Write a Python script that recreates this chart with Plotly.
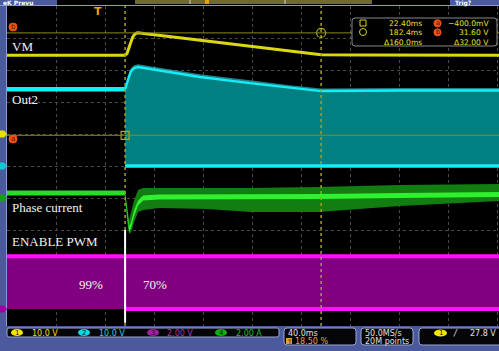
import plotly.graph_objects as go

W, H = 499, 351

# ------------------------- data -------------------------
T_LEFT, T_RIGHT = -74.0, 327.6          # ms at screen edges (18.5 % pre-trigger, 40 ms/div)
TIME_DIV = 40.0                          # ms per division
CURSOR_T = [22.4, 182.4]                 # ms
CURSOR_V = [-0.4, 31.6]                  # V (channel 1)

CH1_SCALE, CH1_OFF = 10.0, 1.0           # V/div, ground position (div)
CH2_SCALE, CH2_OFF = 10.0, 0.0
CH3_SCALE, CH3_OFF = 2.0, -4.47
CH4_SCALE, CH4_OFF = 2.0, -1.0

# VM (ch1, V)
vm_t = [-74, 22.4, 24.0, 25.5, 27.0, 28.5, 30.0, 31.5, 33.0, 36.0, 60, 100, 140, 182.4, 220, 280, 327.6]
vm_v = [24.6, 24.6, 25.2, 27.0, 28.8, 30.2, 31.1, 31.5, 31.6, 31.5, 30.4, 28.5, 26.6, 24.8, 24.7, 24.6, 24.6]

# Out2 (ch2, V) – envelope top, spike tops
out2_t = [-74, 22.4, 24.1, 25.7, 27.3, 29.8, 33.0, 59, 83.5, 124.4, 157, 182.4, 246.8, 327.6]
out2_top = [24.0, 24.0, 26.3, 28.1, 29.7, 30.6, 30.9, 29.4, 27.8, 25.9, 24.4, 23.4, 23.6, 23.6]
out2_spike = [24.0, 24.0, 27.0, 29.0, 30.6, 31.5, 31.8, 30.3, 28.7, 26.8, 25.2, 24.2, 24.4, 24.4]

# Phase current (ch4, A)
cur_pre_t = [-74, 22.4]
cur_pre_hi = [0.47, 0.47]
cur_pre_lo = [0.16, 0.16]
cur_t = [22.4, 24.1, 25.7, 27.3, 29.8, 33.0, 37.1, 50, 90, 124.4, 180, 246.8, 327.6]
cur_core_hi = [0.41, -0.88, -1.75, -1.5, -0.75, -0.16, 0.16, 0.22, 0.22, 0.22, 0.25, 0.31, 0.38]
cur_core_lo = [0.09, -1.25, -2.13, -1.88, -1.13, -0.47, -0.16, -0.09, -0.09, -0.09, -0.06, 0.0, 0.06]
cur_out_hi = [0.31, -0.44, -1.38, -0.88, -0.13, 0.5, 0.63, 0.63, 0.63, 0.63, 0.69, 0.81, 0.88]
cur_out_lo = [0.0, -1.5, -2.25, -2.13, -1.5, -0.88, -0.75, -0.63, -0.69, -0.88, -0.88, -0.5, -0.19]

# ENABLE PWM (ch3, V)
pwm_t = [-74, 22.4, 327.6]
pwm_high = [3.3, 3.3, 3.3]
pwm_low = [0.0, 0.0, 0.0]
duty_labels = ["99%", "70%"]

# ------------------------- helpers -------------------------
def ch(vals, scale, off):
    return [v / scale + off for v in vals]

def px(x):
    return x / W

def py(y):
    return 1 - y / H

SCREEN_L, SCREEN_R, SCREEN_T, SCREEN_B = 7, 499, 6, 326

fig = go.Figure()

def band(x, lo, hi, color):
    fig.add_trace(go.Scatter(x=x, y=lo, mode="lines", line=dict(width=0, color=color),
                             hoverinfo="skip"))
    fig.add_trace(go.Scatter(x=x, y=hi, mode="lines", line=dict(width=0, color=color),
                             fill="tonexty", fillcolor=color, hoverinfo="skip"))

def line(x, y, color, width, dash=None):
    fig.add_trace(go.Scatter(x=x, y=y, mode="lines",
                             line=dict(color=color, width=width, dash=dash),
                             hoverinfo="skip"))

# PWM
band(pwm_t, ch(pwm_low, CH3_SCALE, CH3_OFF), ch(pwm_high, CH3_SCALE, CH3_OFF), "#80007f")
line(pwm_t, ch(pwm_high, CH3_SCALE, CH3_OFF), "#ff10ff", 4)
line(pwm_t[1:], ch(pwm_low[1:], CH3_SCALE, CH3_OFF), "#ff10ff", 4)

# Phase current
band(cur_pre_t, ch(cur_pre_lo, CH4_SCALE, CH4_OFF), ch(cur_pre_hi, CH4_SCALE, CH4_OFF), "#22e022")
band(cur_t, ch(cur_out_lo, CH4_SCALE, CH4_OFF), ch(cur_out_hi, CH4_SCALE, CH4_OFF), "#127e12")
band(cur_t, ch(cur_core_lo, CH4_SCALE, CH4_OFF), ch(cur_core_hi, CH4_SCALE, CH4_OFF), "#30f030")

# Out2
post = slice(1, None)
zeros = [0.0] * len(out2_t[post])
band(out2_t[post], ch(zeros, CH2_SCALE, CH2_OFF), ch(out2_top[post], CH2_SCALE, CH2_OFF), "#008080")
fig.add_trace(go.Scatter(x=out2_t[post], y=ch(out2_spike[post], CH2_SCALE, CH2_OFF), mode="lines",
                         line=dict(width=0), fill="tonexty", fillcolor="rgba(60,230,240,0.55)",
                         hoverinfo="skip"))
line(out2_t[post], ch(out2_top[post], CH2_SCALE, CH2_OFF), "#10f0f8", 2.5)
line(out2_t[:2], ch(out2_top[:2], CH2_SCALE, CH2_OFF), "#10f0f8", 4.5)
line(out2_t[post], ch(zeros, CH2_SCALE, CH2_OFF), "#10f0f8", 3.5)

# VM
line(vm_t, ch(vm_v, CH1_SCALE, CH1_OFF), "#dcd810", 3)

# cursor markers
ya = CURSOR_V[0] / CH1_SCALE + CH1_OFF
yb = CURSOR_V[1] / CH1_SCALE + CH1_OFF
fig.add_trace(go.Scatter(x=[CURSOR_T[0]], y=[ya], mode="markers",
                         marker=dict(symbol="square-open", size=8, color="#b0a820", line=dict(width=1.2)),
                         hoverinfo="skip"))
fig.add_trace(go.Scatter(x=[CURSOR_T[1]], y=[yb], mode="markers",
                         marker=dict(symbol="circle-open", size=9, color="#b0a820", line=dict(width=1.2)),
                         hoverinfo="skip"))

shapes = []
# screen background
shapes.append(dict(type="rect", xref="paper", yref="paper", x0=px(SCREEN_L), x1=px(SCREEN_R),
                   y0=py(SCREEN_B), y1=py(SCREEN_T), fillcolor="black", line=dict(width=0), layer="below"))
# screen border
shapes.append(dict(type="line", xref="paper", yref="paper", x0=0, x1=1, y0=py(5.5), y1=py(5.5),
                   line=dict(color="#8a9ad8", width=1), layer="below"))
shapes.append(dict(type="line", xref="paper", yref="paper", x0=px(6.5), x1=px(6.5), y0=py(5.5), y1=py(326),
                   line=dict(color="#8a9ad8", width=1), layer="below"))
# top bar
shapes.append(dict(type="rect", xref="paper", yref="paper", x0=px(57), x1=px(450), y0=py(5), y1=1,
                   fillcolor="black", line=dict(width=0)))
shapes.append(dict(type="rect", xref="paper", yref="paper", x0=px(135), x1=px(372), y0=py(4), y1=1,
                   fillcolor="#6e6b2c", line=dict(width=0)))
for xt in (190, 285):
    shapes.append(dict(type="line", xref="paper", yref="paper", x0=px(xt), x1=px(xt), y0=py(4), y1=1,
                       line=dict(color="#d0d0d0", width=1)))
shapes.append(dict(type="rect", xref="paper", yref="paper", x0=px(205), x1=px(209), y0=py(4), y1=1,
                   fillcolor="#f0a000", line=dict(width=0)))

# cursors
for tc in CURSOR_T:
    shapes.append(dict(type="line", xref="x", yref="y", x0=tc, x1=tc, y0=-5, y1=5,
                       line=dict(color="#a8a020", width=1.5, dash="dot"), layer="above"))
for yc in (ya, yb):
    shapes.append(dict(type="line", xref="x", yref="y", x0=T_LEFT, x1=T_RIGHT, y0=yc, y1=yc,
                       line=dict(color="#8c8a1c", width=1), layer="above"))
# PWM change marker (white)
shapes.append(dict(type="line", xref="x", yref="y", x0=CURSOR_T[0], x1=CURSOR_T[0], y0=-2.0, y1=-4.9,
                   line=dict(color="white", width=2), layer="above"))

def rrect(x0, y0, x1, y1, r, fill, border):
    p = (f"M {px(x0 + r)},{py(y0)} L {px(x1 - r)},{py(y0)} Q {px(x1)},{py(y0)} {px(x1)},{py(y0 + r)} "
         f"L {px(x1)},{py(y1 - r)} Q {px(x1)},{py(y1)} {px(x1 - r)},{py(y1)} "
         f"L {px(x0 + r)},{py(y1)} Q {px(x0)},{py(y1)} {px(x0)},{py(y1 - r)} "
         f"L {px(x0)},{py(y0 + r)} Q {px(x0)},{py(y0)} {px(x0 + r)},{py(y0)} Z")
    return dict(type="path", xref="paper", yref="paper", path=p, fillcolor=fill,
                line=dict(color=border, width=1), layer="above")

# readout box
shapes.append(rrect(352, 18, 497, 46, 3, "black", "#8a8a8a"))
shapes.append(dict(type="rect", xref="paper", yref="paper", x0=px(360), x1=px(366), y0=py(26), y1=py(20),
                   fillcolor="rgba(0,0,0,0)", line=dict(color="#d8d020", width=1), layer="above"))
shapes.append(dict(type="circle", xref="paper", yref="paper", x0=px(359.5), x1=px(366.5), y0=py(35.5), y1=py(28.5),
                   fillcolor="rgba(0,0,0,0)", line=dict(color="#d8d020", width=1), layer="above"))

def dot(xc, yc, r, color, border=None):
    return dict(type="circle", xref="paper", yref="paper", x0=px(xc - r), x1=px(xc + r),
                y0=py(yc + r), y1=py(yc - r), fillcolor=color,
                line=dict(color=border or color, width=1), layer="above")

shapes.append(dot(437.5, 23.3, 3.6, "#f05018"))
shapes.append(dot(437.5, 32.3, 3.6, "#f05018"))
shapes.append(dot(13, 27, 4, "#f05018"))
shapes.append(dot(13, 139, 4, "#f05018"))

# ground markers (left edge)
for off, col in ((CH1_OFF, "#e8e000"), (CH2_OFF, "#10c8d8"), (CH4_OFF, "#14a014"), (CH3_OFF, "#a000a0")):
    h = 0.11
    p = (f"M 0,{off - h} L {px(4)},{off - h} L {px(7)},{off} L {px(4)},{off + h} L 0,{off + h} Z")
    shapes.append(dict(type="path", xref="paper", yref="y", path=p, fillcolor=col,
                       line=dict(width=0), layer="above"))

# bottom info boxes
shapes.append(rrect(7, 328, 279, 337, 2, "#050508", "#9aa6d0"))
shapes.append(rrect(284, 328, 356, 345, 3, "#050508", "#9aa6d0"))
shapes.append(rrect(361, 328, 413, 345, 3, "#050508", "#9aa6d0"))
shapes.append(rrect(419, 328, 503, 345, 3, "#050508", "#9aa6d0"))

def oval(x0, x1, yc, color):
    return dict(type="circle", xref="paper", yref="paper", x0=px(x0), x1=px(x1),
                y0=py(yc + 3.6), y1=py(yc - 3.6), fillcolor=color, line=dict(width=0), layer="above")

shapes.append(oval(11, 23, 332.5, "#f5e600"))
shapes.append(oval(78, 90, 332.5, "#10d8e8"))
shapes.append(oval(147, 159, 332.5, "#a020a0"))
shapes.append(oval(215, 227, 332.5, "#10b010"))
shapes.append(oval(434, 447, 333, "#f5e600"))
shapes.append(dict(type="rect", xref="paper", yref="paper", x0=px(286), x1=px(292), y0=py(344), y1=py(338),
                   fillcolor="#f0a020", line=dict(width=0), layer="above"))

ann = []

def txt(x, y, s, color, size, family="DejaVu Sans", anchor="left"):
    ann.append(dict(xref="paper", yref="paper", x=px(x), y=py(y), text=s, showarrow=False,
                    xanchor=anchor, yanchor="middle", font=dict(color=color, size=size, family=family),
                    borderpad=0))

SERIF = "Liberation Serif"
txt(11, 46, "VM", "#f2f2f2", 13, SERIF)
txt(11, 99, "Out2", "#f2f2f2", 13, SERIF)
txt(11, 207, "Phase current", "#f2f2f2", 13, SERIF)
txt(11, 241, "ENABLE PWM", "#f2f2f2", 13, SERIF)
ann.append(dict(xref="x", yref="y", x=-5.5, y=1.56 / CH3_SCALE + CH3_OFF, text=duty_labels[0], showarrow=False,
                font=dict(color="#f2f2f2", size=13, family=SERIF)))
ann.append(dict(xref="x", yref="y", x=47, y=1.56 / CH3_SCALE + CH3_OFF, text=duty_labels[1], showarrow=False,
                font=dict(color="#f2f2f2", size=13, family=SERIF)))

# top bar texts
txt(2, 2.6, "<b>eK Prevu</b>", "white", 6)
txt(454, 2.6, "<b>Trig?</b>", "white", 6)
# trigger marker
txt(98, 11.5, "<b>T</b>", "#f0a000", 11, anchor="center")

# left cursor labels
txt(13, 27, "b", "#601000", 7, anchor="center")
txt(13, 139, "a", "#601000", 7, anchor="center")

# readout
YEL = "#e8e020"
txt(423, 23.3, f"{CURSOR_T[0]:.2f}ms", YEL, 7.6, anchor="right")
txt(423, 32.3, f"{CURSOR_T[1]:.1f}ms", YEL, 7.6, anchor="right")
txt(423, 42, f"Δ{CURSOR_T[1] - CURSOR_T[0]:.1f}ms", YEL, 7.6, anchor="right")
txt(490, 23.3, f"−{abs(CURSOR_V[0]) * 1000:.1f}mV", YEL, 7.6, anchor="right")
txt(490, 32.3, f"{CURSOR_V[1]:.2f} V", YEL, 7.6, anchor="right")
txt(490, 42, f"Δ{CURSOR_V[1] - CURSOR_V[0]:.2f} V", YEL, 7.6, anchor="right")
txt(437.5, 23.3, "a", "#601000", 6.5, anchor="center")
txt(437.5, 32.3, "b", "#601000", 6.5, anchor="center")

# bottom bar
txt(17, 332.5, "1", "#202000", 7, anchor="center")
txt(31, 333, f"{CH1_SCALE:.1f} V", "#e8e000", 8)
txt(84, 332.5, "2", "#002020", 7, anchor="center")
txt(98, 333, f"{CH2_SCALE:.1f} V", "#20d0e0", 8)
txt(153, 332.5, "3", "#300030", 7, anchor="center")
txt(166, 333, f"{CH3_SCALE:.2f} V", "#b030b0", 8)
txt(221, 332.5, "4", "#002000", 7, anchor="center")
txt(235, 333, f"{CH4_SCALE:.2f} A", "#20c020", 8)
txt(287, 333, f"{TIME_DIV:.1f}ms", "#e0e0e0", 8)
txt(289, 341, "T", "#301000", 6, anchor="center")
txt(294, 341, "18.50 %", "#f0a030", 8)
txt(364, 333, "50.0MS/s", "#e0e0e0", 8)
txt(364, 341, "20M points", "#e0e0e0", 8)
txt(440.5, 333, "1", "#202000", 7, anchor="center")
txt(455, 333, "<i>/</i>", "#e0e0e0", 8, anchor="center")
txt(497, 333, "27.8 V", "#e0e0e0", 8, anchor="right")

grid_t = [T_LEFT + TIME_DIV * k for k in range(11)]

fig.update_layout(
    width=W, height=H, autosize=False,
    margin=dict(l=0, r=0, t=0, b=0, pad=0),
    paper_bgcolor="#4a5a9c", plot_bgcolor="black",
    showlegend=False,
    shapes=shapes, annotations=ann,
    xaxis=dict(domain=[px(SCREEN_L), px(SCREEN_R)], range=[T_LEFT, T_RIGHT], showticklabels=False,
               ticks="", tickvals=grid_t, showgrid=True, gridcolor="#4a4a4a", griddash="dot",
               gridwidth=1, zeroline=False, showline=False, fixedrange=True),
    yaxis=dict(domain=[py(SCREEN_B), py(SCREEN_T)], range=[-5, 5], showticklabels=False,
               ticks="", tickvals=list(range(-5, 6)), showgrid=True, gridcolor="#4a4a4a",
               griddash="dot", gridwidth=1, zeroline=False, showline=False, fixedrange=True),
)

fig.write_html("out.html", config={"displayModeBar": False})
